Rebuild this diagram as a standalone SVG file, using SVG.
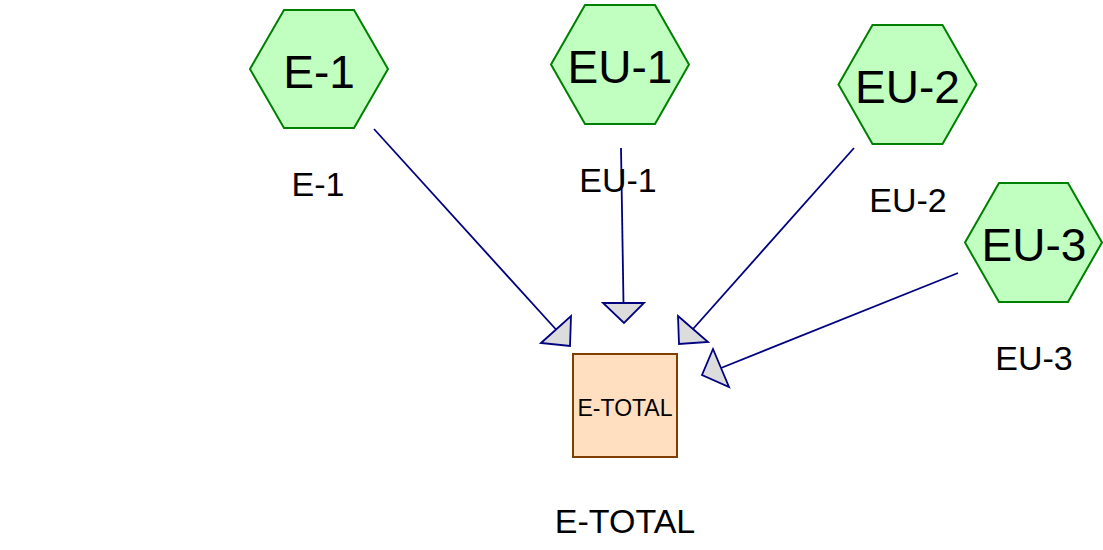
<svg xmlns="http://www.w3.org/2000/svg" width="1103" height="550" viewBox="0 0 1103 550">
<style>
.hex{fill:#c0ffc0;stroke:#008000;stroke-width:2}
.box{fill:#ffdfc0;stroke:#7f3f00;stroke-width:2}
.edge{stroke:#000080;stroke-width:1.8;fill:none}
.head{fill:#dcdcdc;stroke:#000080;stroke-width:1.8;stroke-linejoin:miter}
.ht{font-family:"Liberation Sans",Arial,sans-serif;font-size:46px;fill:#000;text-anchor:middle}
.lb{font-family:"Liberation Sans",Arial,sans-serif;font-size:34px;fill:#000;text-anchor:middle}
.bt{font-family:"Liberation Sans",Arial,sans-serif;font-size:23px;fill:#000;text-anchor:middle}
</style>
<rect width="1103" height="550" fill="#fff"/>
<g id="connectors">
<line class="edge" x1="374" y1="129" x2="556" y2="329.5"/>
<polygon class="head" points="541,343 571,316 570,346"/>
<line class="edge" x1="621" y1="148" x2="623.5" y2="303"/>
<polygon class="head" points="603,303 644,303 624,323"/>
<line class="edge" x1="854" y1="148" x2="693" y2="329"/>
<polygon class="head" points="678,316 708,342 679,344"/>
<line class="edge" x1="958" y1="273" x2="721" y2="368"/>
<polygon class="head" points="713,349 729,387 702,375"/>
</g>
<g id="E-1">
<polygon class="hex" points="250,69 284,10 354,10 388,69 354,128 284,128"/>
<text class="ht" x="319" y="87.5">E-1</text>
<text class="lb" x="318" y="196">E-1</text>
</g>
<g id="EU-1">
<polygon class="hex" points="551,64.5 585,5 655,5 689,64.5 655,124 585,124"/>
<text class="ht" x="620" y="83">EU-1</text>
<text class="lb" x="618" y="192">EU-1</text>
</g>
<g id="EU-2">
<polygon class="hex" points="838.5,84.5 872.5,25 942.5,25 976.5,84.5 942.5,144 872.5,144"/>
<text class="ht" x="907.5" y="103">EU-2</text>
<text class="lb" x="908" y="212">EU-2</text>
</g>
<g id="EU-3">
<polygon class="hex" points="965,242.5 999,183 1068,183 1102,242.5 1068,302 999,302"/>
<text class="ht" x="1034" y="261">EU-3</text>
<text class="lb" x="1034" y="370">EU-3</text>
</g>
<g id="E-TOTAL">
<rect class="box" x="573" y="354" width="104" height="103"/>
<text class="bt" x="625" y="416">E-TOTAL</text>
<text class="lb" x="625" y="533">E-TOTAL</text>
</g>
</svg>
